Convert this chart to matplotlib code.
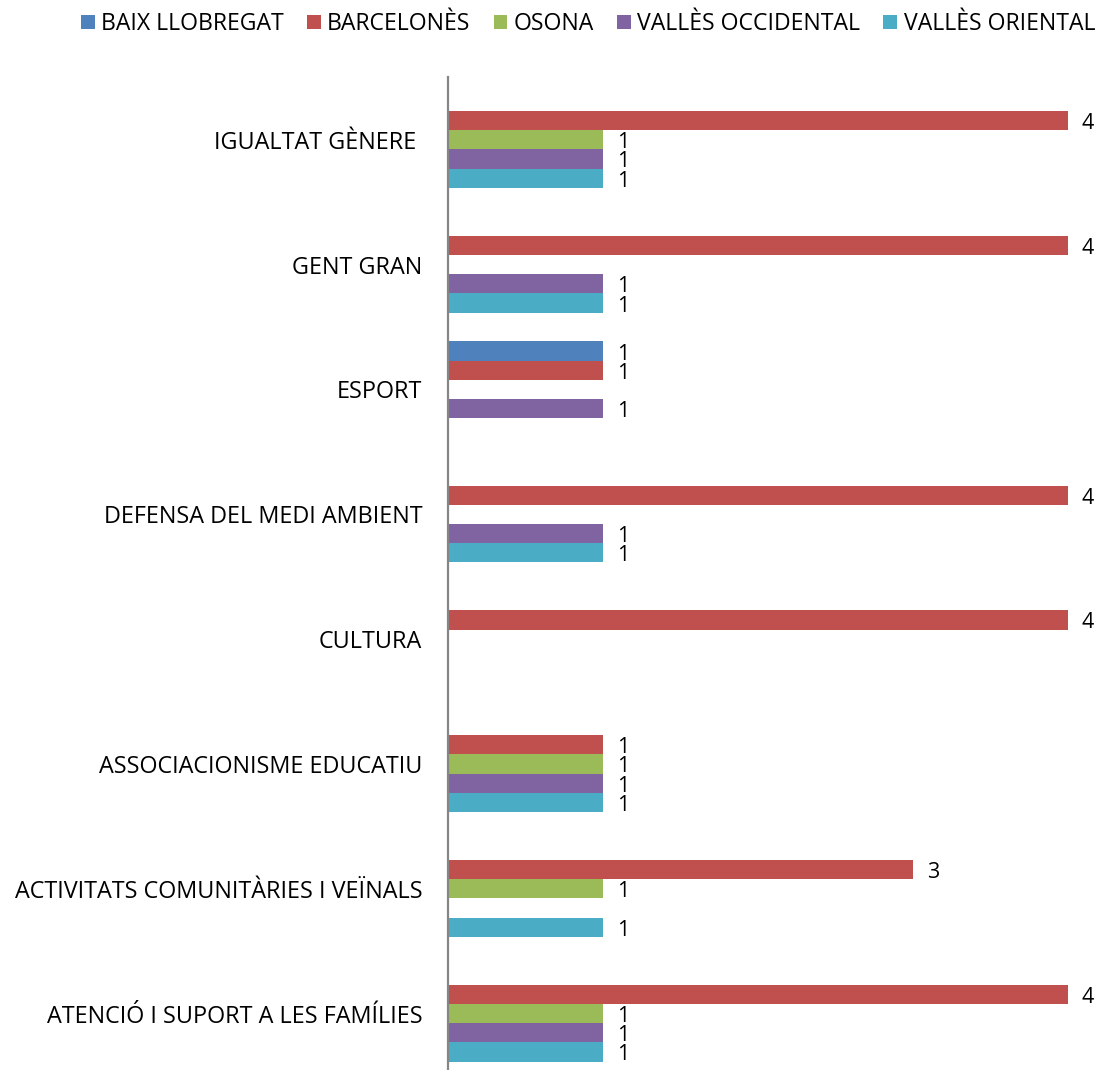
import matplotlib
matplotlib.use("Agg")
import matplotlib.pyplot as plt
from matplotlib.patches import Patch
import numpy as np

plt.rcParams['font.family'] = ['Open Sans', 'DejaVu Sans']

# categories, bottom to top
categories = [
    "ATENCIÓ I SUPORT A LES FAMÍLIES",
    "ACTIVITATS COMUNITÀRIES I VEÏNALS",
    "ASSOCIACIONISME EDUCATIU",
    "CULTURA",
    "DEFENSA DEL MEDI AMBIENT",
    "ESPORT",
    "GENT GRAN",
    "IGUALTAT GÈNERE ",
]

series_names = ["BAIX LLOBREGAT", "BARCELONÈS", "OSONA", "VALLÈS OCCIDENTAL", "VALLÈS ORIENTAL"]
colors = ["#4F81BD", "#C0504D", "#9BBB59", "#8064A2", "#4BACC6"]

# 0 = sense dada (no bar drawn)
baix_llobregat = [0, 0, 0, 0, 0, 1, 0, 0]
barcelones = [4, 3, 1, 4, 4, 1, 4, 4]
osona = [1, 1, 1, 0, 0, 0, 0, 1]
valles_occidental = [1, 0, 1, 0, 1, 1, 1, 1]
valles_oriental = [1, 1, 1, 0, 1, 0, 1, 1]

all_series = [baix_llobregat, barcelones, osona, valles_occidental, valles_oriental]

fig = plt.figure(figsize=(11.06, 10.70), dpi=100)
ax = fig.add_axes([448 / 1106, -6 / 1070, 619.6 / 1106, 998.6 / 1070])

y = np.arange(len(categories))
h = 0.1537
offsets = [2 * h, h, 0, -h, -2 * h]

for vals, col, off in zip(all_series, colors, offsets):
    vals = np.array(vals, dtype=float)
    mask = vals > 0
    ax.barh(y[mask] + off, vals[mask], height=h, color=col, edgecolor='none')
    for yy, v in zip(y[mask] + off, vals[mask]):
        ax.annotate(f"{int(v)}", xy=(v, yy), xytext=(14, -3), textcoords='offset pixels',
                    ha='left', va='center', fontsize=15.5, color='black',
                    annotation_clip=False)

ax.set_xlim(0, 4)
ax.set_ylim(-0.5, len(categories) - 0.5)
ax.set_yticks(y)
ax.set_yticklabels(categories, fontsize=16.8)
ax.tick_params(axis='y', length=0, pad=18.5)
ax.set_xticks([])
for s in ['top', 'right', 'bottom']:
    ax.spines[s].set_visible(False)
ax.spines['left'].set_color('#868686')
ax.spines['left'].set_linewidth(1.6)

handles = [Patch(facecolor=c, edgecolor='none') for c in colors]
fig.legend(handles, series_names, loc='center', bbox_to_anchor=(588 / 1106, 1 - 24 / 1070),
           ncol=5, frameon=False, fontsize=16.6, handlelength=0.6, handleheight=0.6,
           handletextpad=0.28, columnspacing=1.0, borderpad=0, borderaxespad=0)

fig.savefig("out.png", dpi=100)
